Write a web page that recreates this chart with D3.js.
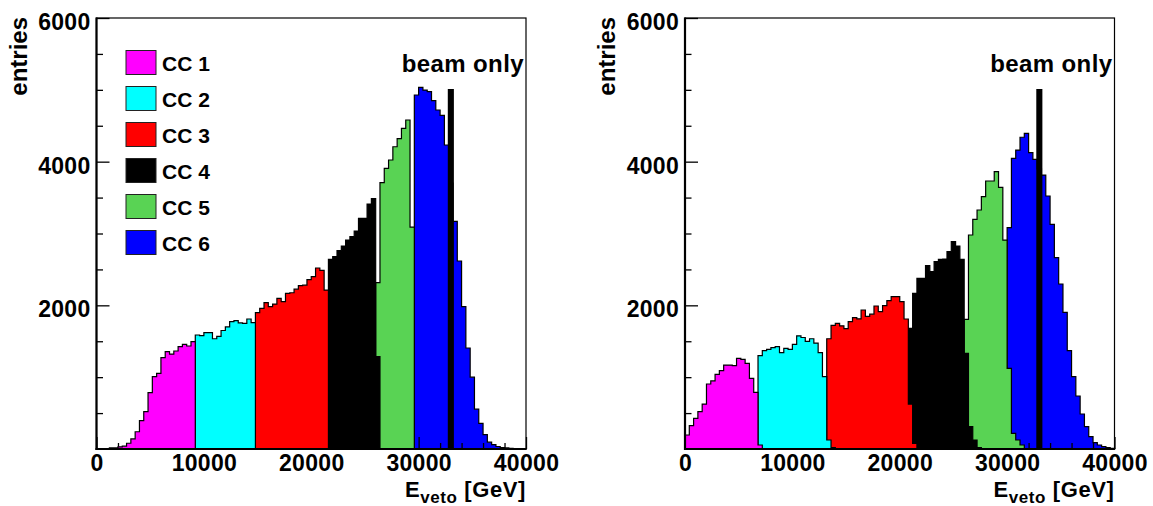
<!DOCTYPE html>
<html><head><meta charset="utf-8">
<script src="https://cdn.jsdelivr.net/npm/d3@7"></script>
<style>
body{margin:0;background:#fff;}
svg text{font-family:"Liberation Sans",Arial,Helvetica,sans-serif;font-weight:bold;fill:#000;}
</style></head><body>
<svg id="c" width="1153" height="506"></svg>
<script>
// ---------------- data ----------------
const binWidth = 400;                 // GeV per bin
const xDomain = [0, 40000];
const yDomain = [0, 6000];
const seriesNames = ["CC 1", "CC 2", "CC 3", "CC 4", "CC 5", "CC 6"];
const seriesColors = ["#ff00ff", "#00ffff", "#ff0000", "#000000", "#59d354", "#0000ff"];
const xTickValues = [0, 10000, 20000, 30000, 40000];
const yTickValues = [2000, 4000, 6000];
const xAxisTitle = "E";
const xAxisSub = "veto";
const xAxisUnit = " [GeV]";
const yAxisTitle = "entries";
const beamLabel = "beam only";

// left panel: low edge (GeV) of first bin of each series, then bin contents
const leftStarts = [1200, 9200, 14800, 21600, 26000, 29600];
const leftCC1 = [15, 15, 30, 40, 80, 140, 240, 395, 520, 785, 1007, 1053, 1271, 1355, 1322, 1364, 1424, 1457, 1434, 1494];
const leftCC2 = [1587, 1578, 1619, 1619, 1535, 1567, 1650, 1700, 1772, 1786, 1755, 1749, 1810, 1759];
const leftCC3 = [1898, 1958, 2037, 1981, 2018, 2097, 2051, 2167, 2175, 2225, 2275, 2280, 2358, 2399, 2520, 2488, 2213];
const leftCC4 = [2640, 2677, 2761, 2826, 2909, 2956, 3035, 3211, 3211, 3410, 3485, 1285];
const leftCC5 = [2315, 3707, 3907, 4023, 4208, 4320, 4464, 4580, 3090];
const leftCC6 = [4928, 5034, 4997, 4974, 4849, 4719, 4645, 4232, 3700, 3168, 2617, 1981, 1406, 1000, 555, 357, 200, 95, 60, 35, 20, 15, 9, 6, 3, 0];

// right panel
const rightStarts = [0, 6800, 13200, 20800, 26000, 30000];
const rightCC1 = [195, 325, 427, 520, 626, 905, 947, 1039, 1090, 1169, 1169, 1160, 1262, 1248, 1192, 984, 789, 56];
const rightCC2 = [1299, 1369, 1387, 1411, 1424, 1341, 1400, 1387, 1457, 1575, 1552, 1498, 1535, 1475, 1341, 1007, 125, 20];
const rightCC3 = [1535, 1720, 1749, 1715, 1675, 1772, 1828, 1812, 1935, 1846, 1877, 1991, 1912, 1995, 2065, 2120, 2120, 2051, 1810, 626, 79];
const rightCC4 = [1680, 2167, 2376, 2376, 2552, 2468, 2608, 2640, 2645, 2747, 2886, 2826, 2640, 1332, 311, 125, 20];
const rightCC5 = [1805, 2979, 3197, 3327, 3512, 3731, 3731, 3860, 3642, 2909, 1123, 218, 125, 56];
const rightCC6 = [3081, 4046, 4162, 4340, 4394, 4125, 4032, 3900, 3814, 3522, 3127, 2663, 2297, 1902, 1369, 1007, 738, 487, 311, 172, 88, 56, 32, 19, 10];

// "beam only" histogram (same in both panels)
const beamStart = 32800;
const beamValues = [5000];

// ---------------- drawing ----------------
const frameTop = 18, frameBottom = 449;
const panels = [
  {left: 96.5, right: 526, starts: leftStarts, series: [leftCC1, leftCC2, leftCC3, leftCC4, leftCC5, leftCC6], legend: true},
  {left: 685, right: 1114.5, starts: rightStarts, series: [rightCC1, rightCC2, rightCC3, rightCC4, rightCC5, rightCC6], legend: false}
];

const svg = d3.select("#c");
const minorX = d3.range(0, 40001, 2000).filter(v => v % 10000 !== 0);
const minorY = d3.range(500, 6000, 500).filter(v => v % 2000 !== 0);

function histPts(start, vals) {
  const pts = [[start, 0]];
  vals.forEach((v, i) => { pts.push([start + i * binWidth, v], [start + (i + 1) * binWidth, v]); });
  pts.push([start + vals.length * binWidth, 0]);
  return pts;
}

panels.forEach(p => {
  const x = d3.scaleLinear().domain(xDomain).range([p.left, p.right]);
  const y = d3.scaleLinear().domain(yDomain).range([frameBottom, frameTop]);
  const line = d3.line().x(d => x(d[0])).y(d => y(d[1]));
  const g = svg.append("g");

  const drawHist = i => g.append("path")
    .attr("d", line(histPts(p.starts[i], p.series[i])) + "Z")
    .attr("fill", seriesColors[i]).attr("stroke", "#000").attr("stroke-width", 1.2);

  drawHist(5);

  // axes ticks (inward), drawn above CC 6 only
  const ax = g.append("g").attr("transform", `translate(0,${frameBottom})`)
    .call(d3.axisBottom(x).tickValues(xTickValues).tickSize(-12).tickSizeOuter(0).tickPadding(5.5).tickFormat(d3.format("d")));
  const axm = g.append("g").attr("transform", `translate(0,${frameBottom})`)
    .call(d3.axisBottom(x).tickValues(minorX).tickSize(-6).tickSizeOuter(0).tickFormat(""));
  const ay = g.append("g").attr("transform", `translate(${p.left},0)`)
    .call(d3.axisLeft(y).tickValues(yTickValues).tickSize(-13).tickSizeOuter(0).tickPadding(6).tickFormat(d3.format("d")));
  const aym = g.append("g").attr("transform", `translate(${p.left},0)`)
    .call(d3.axisLeft(y).tickValues(minorY).tickSize(-6.5).tickSizeOuter(0).tickFormat(""));
  [ax, axm, ay, aym].forEach(a => {
    a.select(".domain").remove();
    a.attr("font-family", null).attr("font-size", null);
    a.selectAll(".tick line").attr("stroke", "#000").attr("stroke-width", 1.3);
    a.selectAll("text").style("font-size", "23px").style("letter-spacing", "0.3px").attr("fill", "#000");
  });
  ay.selectAll("text").attr("dy", "0.5em");

  for (let i = 4; i >= 0; i--) drawHist(i);

  // beam only
  g.append("path").attr("d", line(histPts(beamStart, beamValues)) + "Z")
    .attr("fill", "#000").attr("stroke", "#000").attr("stroke-width", 1.8);

  // frame
  g.append("rect").attr("x", p.left).attr("y", frameTop).attr("width", p.right - p.left).attr("height", frameBottom - frameTop)
    .attr("fill", "none").attr("stroke", "#000").attr("stroke-width", 1.2);
  g.append("line").attr("x1", p.left).attr("x2", p.left).attr("y1", frameTop - 0.6).attr("y2", frameBottom + 1)
    .attr("stroke", "#000").attr("stroke-width", 2.2);
  g.append("line").attr("x1", p.left - 1).attr("x2", p.right + 0.6).attr("y1", frameBottom).attr("y2", frameBottom)
    .attr("stroke", "#000").attr("stroke-width", 2.2);

  // labels
  g.append("text").attr("x", p.right - 2).attr("y", 72).attr("text-anchor", "end")
    .style("font-size", "24px").style("letter-spacing", "0.4px").text(beamLabel);

  g.append("text").attr("transform", `translate(${p.left - 70},${frameTop - 1}) rotate(-90)`)
    .attr("text-anchor", "end").style("font-size", "24px").text(yAxisTitle);

  const xt = g.append("text").attr("x", p.right).attr("y", 497).attr("text-anchor", "end")
    .style("font-size", "22px").style("letter-spacing", "0.6px");
  xt.append("tspan").text(xAxisTitle);
  xt.append("tspan").attr("dy", 6).style("font-size", "17px").text(xAxisSub);
  xt.append("tspan").attr("dy", -6).text(xAxisUnit);

  if (p.legend) {
    const lg = g.append("g");
    seriesNames.forEach((name, i) => {
      lg.append("rect").attr("x", 126).attr("y", 50.5 + 36 * i).attr("width", 30).attr("height", 24)
        .attr("fill", seriesColors[i]).attr("stroke", "#222").attr("stroke-width", 1);
      lg.append("text").attr("x", 162).attr("y", 71 + 36 * i).style("font-size", "21px").text(name);
    });
  }
});
</script>
</body></html>
